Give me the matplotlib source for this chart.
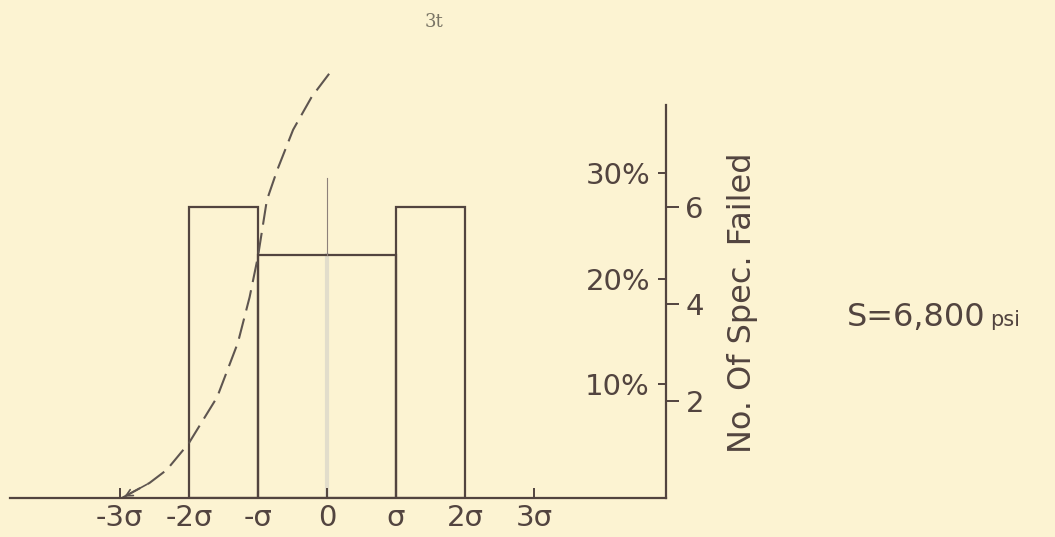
import matplotlib.pyplot as plt

W, H = 1055, 537

# histogram of failures, in units of sigma
bar_left = [-2, -1, 1]
bar_width = [1, 2, 1]
bar_counts = [6, 5, 6]

# hand-drawn dashed curve (x in sigma, y in no. of specimens)
curve_x = [-2.97, -2.57, -2.32, -2.0, -1.59, -1.29, -1.12, -1.0, -0.87, -0.72, -0.49, -0.22, 0.04]
curve_y = [0.0, 0.31, 0.58, 1.13, 2.08, 3.2, 4.14, 4.97, 6.14, 6.76, 7.59, 8.27, 8.76]

x_ticks = [-3, -2, -1, 0, 1, 2, 3]
x_labels = ["-3σ", "-2σ", "-σ", "0", "σ", "2σ", "3σ"]
count_ticks = [2, 4, 6]
pct_ticks = [10, 20, 30]
pct_labels = ["10%", "20%", "30%"]

INK = "#52443f"
PAPER = "#fcf3d2"

plt.rcParams["font.family"] = ["DejaVu Sans"]

fig = plt.figure(figsize=(W / 100, H / 100), dpi=100, facecolor=PAPER)
ax = fig.add_axes([10 / W, 1 - 498 / H, (666 - 10) / W, (498 - 105) / H])
ax.set_facecolor("none")
ax.set_xlim(-4.59, 4.91)
ax.set_ylim(0, 8.1)

# percent scale sits on the same spine, ticks pointing inward
ax2 = ax.twinx()
ax2.set_ylim(-0.82, 36.5)
for s in ax2.spines.values():
    s.set_visible(False)
ax2.set_yticks(pct_ticks)
ax2.set_yticklabels(pct_labels)
ax2.tick_params(axis="y", direction="in", length=6, width=1.4, color=INK,
                labelsize=21, labelcolor=INK, pad=-11.5)
for lab in ax2.get_yticklabels():
    lab.set_horizontalalignment("right")

for side in ["left", "top"]:
    ax.spines[side].set_visible(False)
for side in ["bottom", "right"]:
    ax.spines[side].set_color(INK)
    ax.spines[side].set_linewidth(1.6)

ax.bar(bar_left, bar_counts, width=bar_width, align="edge", fill=False,
       edgecolor=INK, linewidth=1.6)

# faint centre line
ax.plot([0, 0], [bar_counts[1], 6.6], color="#8d807a", lw=0.8)
ax.plot([0, 0], [0, bar_counts[1]], color="#e2ddcb", lw=3, zorder=0)

ax.plot(curve_x, curve_y, ls=(0, (10, 4)), color="#5e5550", lw=1.5, clip_on=False)
ax.annotate("", xy=(curve_x[0], curve_y[0]), xytext=(curve_x[1], curve_y[1]),
            arrowprops=dict(arrowstyle="->", color="#5e5550", lw=1.2, mutation_scale=12))

ax.set_xticks(x_ticks)
ax.set_xticklabels(x_labels)
ax.tick_params(axis="x", direction="in", length=7, width=1.4, color=INK,
               labelsize=21, labelcolor=INK, pad=4)

ax.yaxis.tick_right()
ax.set_yticks(count_ticks)
ax.tick_params(axis="y", direction="out", length=9, width=1.4, color=INK,
               labelsize=21, labelcolor=INK, pad=5, left=False, labelleft=False,
               right=True, labelright=True)

fig.text(742 / W, 1 - 303 / H, "No. Of Spec. Failed", rotation=90,
         ha="center", va="center", fontsize=23, color=INK)

t = fig.text(847 / W, 1 - 318 / H, "S=6,800", ha="left", va="center",
             fontsize=23, color=INK)
fig.canvas.draw()
bb = t.get_window_extent()
fig.text(bb.x1 / W + 0.004, 1 - 320 / H, "psi", ha="left", va="center",
         fontsize=15, color=INK)

fig.text(434 / W, 1 - 22 / H, "3t", ha="center", va="center", fontsize=13,
         color="#7a7566", family="DejaVu Serif")

fig.savefig("out.png", dpi=100, facecolor=PAPER)
